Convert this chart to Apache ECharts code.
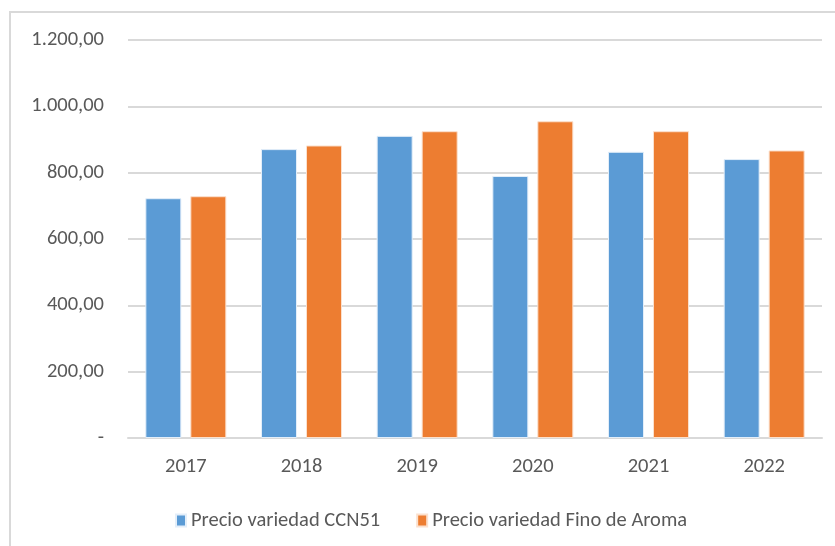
<!DOCTYPE html>
<html>
<head>
<meta charset="utf-8">
<script src="https://cdn.jsdelivr.net/npm/echarts@6/dist/echarts.min.js"></script>
<style>
html,body{margin:0;padding:0;background:#fff;}
#c{width:835px;height:546px;}
</style>
</head>
<body>
<div id="c"></div>
<script>
const categories = ['2017','2018','2019','2020','2021','2022'];
const ccn51 = [723, 871, 911, 790, 863, 841];
const finoAroma = [729, 882, 925, 955, 925, 867];
const seriesNames = ['Precio variedad CCN51','Precio variedad Fino de Aroma'];

const FONT = 'Carlito, "Open Sans", sans-serif';
function fmt(v){
  if (v === 0) return '-';
  const s = v.toFixed(2).split('.');
  const intPart = s[0].replace(/\B(?=(\d{3})+(?!\d))/g, '.');
  return intPart + ',' + s[1];
}
const chart = echarts.init(document.getElementById('c'));
chart.setOption({
  animation:false,
  backgroundColor:'#fff',
  graphic:[{
    type:'polyline',
    shape:{points:[[10,560],[10,12],[850,12]]},
    style:{stroke:'#d9d9d9',lineWidth:2,fill:null},
    silent:true
  }],
  grid:{left:128,right:13,top:40,bottom:108,containLabel:false},
  legend:{
    top:505,left:170,
    itemWidth:10,itemHeight:12,itemGap:36,
    icon:'rect',
    textStyle:{fontFamily:FONT,fontSize:20.5,color:'#595959'},
    data:seriesNames
  },
  xAxis:{
    type:'category',data:categories,
    axisLine:{lineStyle:{color:'#d9d9d9',width:2}},
    axisTick:{show:false},
    axisLabel:{fontFamily:FONT,fontSize:20.5,color:'#595959',margin:18}
  },
  yAxis:{
    type:'value',min:0,max:1200,interval:200,
    axisLine:{show:false},axisTick:{show:false},
    splitLine:{lineStyle:{color:'#d9d9d9',width:2}},
    axisLabel:{fontFamily:FONT,fontSize:20.5,color:'#595959',margin:24,formatter:fmt}
  },
  series:[
    {name:seriesNames[0],type:'bar',data:ccn51,barWidth:36,barGap:'25%',
     itemStyle:{color:'#5b9bd5',borderColor:'#e3eef9',borderWidth:1}},
    {name:seriesNames[1],type:'bar',data:finoAroma,barWidth:36,
     itemStyle:{color:'#ed7d31',borderColor:'#fbe0cd',borderWidth:1}}
  ]
});
</script>
</body>
</html>
